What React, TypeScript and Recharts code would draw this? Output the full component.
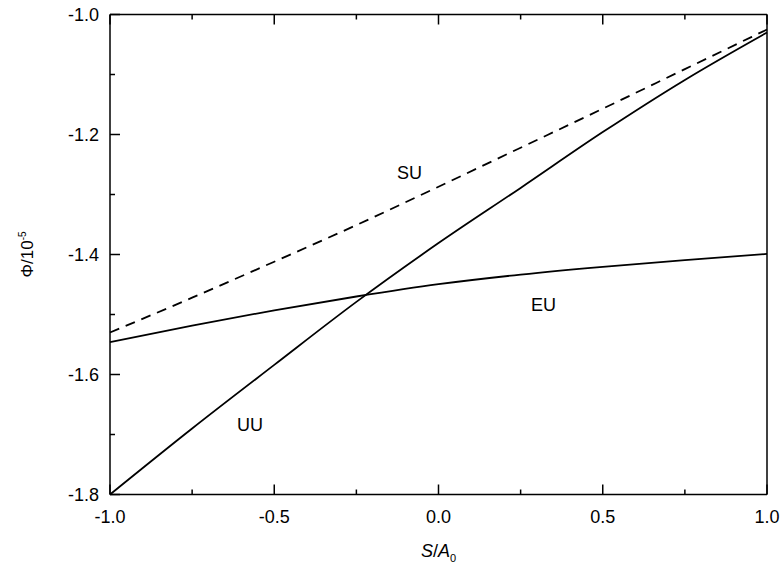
import { LineChart, Line, XAxis, YAxis, ReferenceDot } from 'recharts';

// S/A0 sample points
const sValues = [-1, -0.75, -0.5, -0.25, 0, 0.25, 0.5, 0.75, 1];
// Phi / 10^-5 for each curve
const uuValues = [-1.8, -1.69, -1.584, -1.479, -1.381, -1.289, -1.196, -1.109, -1.03];
const suValues = [-1.53, -1.472, -1.412, -1.351, -1.287, -1.222, -1.157, -1.091, -1.025];
const euValues = [-1.546, -1.5185, -1.493, -1.47, -1.4495, -1.4335, -1.4205, -1.4095, -1.399];

const xTicks = [-1, -0.75, -0.5, -0.25, 0, 0.25, 0.5, 0.75, 1];
const xMajor = [-1, -0.5, 0, 0.5, 1];
const yTicks = [-1.8, -1.7, -1.6, -1.5, -1.4, -1.3, -1.2, -1.1, -1.0];
const yMajor = [-1.8, -1.6, -1.4, -1.2, -1.0];

const curveLabels = [
  { name: 'SU', x: -0.088, y: -1.264 },
  { name: 'EU', x: 0.32, y: -1.484 },
  { name: 'UU', x: -0.574, y: -1.683 },
];

const data = sValues.map((s, i) => ({ s, uu: uuValues[i], su: suValues[i], eu: euValues[i] }));

const FONT = '"Liberation Sans", Arial, sans-serif';
const MAJOR = 10;
const MINOR = 5;

const isMajor = (list: number[], v: number) => list.some(m => Math.abs(m - v) < 1e-6);

function BottomTick(props: any) {
  const { x, y, payload } = props;
  const major = isMajor(xMajor, payload.value);
  return (
    <g>
      <line x1={x} x2={x} y1={y} y2={y - (major ? MAJOR : MINOR)} stroke="#000" strokeWidth={1.5} />
      {major && (
        <text x={x} y={y + 28} textAnchor="middle" fontSize={18} fontFamily={FONT} fill="#000">
          {payload.value.toFixed(1)}
        </text>
      )}
    </g>
  );
}

function TopTick(props: any) {
  const { x, y, payload } = props;
  const major = isMajor(xMajor, payload.value);
  return <line x1={x} x2={x} y1={y} y2={y + (major ? MAJOR : MINOR)} stroke="#000" strokeWidth={1.5} />;
}

function LeftTick(props: any) {
  const { x, y, payload } = props;
  const major = isMajor(yMajor, payload.value);
  return (
    <g>
      <line x1={x} x2={x + (major ? MAJOR : MINOR)} y1={y} y2={y} stroke="#000" strokeWidth={1.5} />
      {major && (
        <text x={x - 11} y={y + 6.5} textAnchor="end" fontSize={18} fontFamily={FONT} fill="#000">
          {payload.value.toFixed(1)}
        </text>
      )}
    </g>
  );
}

function RightTick(props: any) {
  const { x, y, payload } = props;
  const major = isMajor(yMajor, payload.value);
  return <line x1={x} x2={x - (major ? MAJOR : MINOR)} y1={y} y2={y} stroke="#000" strokeWidth={1.5} />;
}

function XTitle(props: any) {
  const { x, y, width } = props.viewBox;
  return (
    <text x={x + width / 2} y={y + 62} textAnchor="middle" fontSize={18} fontFamily={FONT} fill="#000">
      <tspan fontStyle="italic">S</tspan>
      <tspan>/</tspan>
      <tspan fontStyle="italic">A</tspan>
      <tspan fontSize={11} dy={5}>0</tspan>
    </text>
  );
}

function YTitle(props: any) {
  const { y, height } = props.viewBox;
  const cx = 33;
  const cy = y + height / 2;
  return (
    <text x={cx} y={cy} transform={`rotate(-90 ${cx} ${cy})`} textAnchor="middle" fontSize={17} fontFamily={FONT} fill="#000">
      <tspan>Φ/10</tspan>
      <tspan fontSize={10} dy={-7}>-5</tspan>
    </text>
  );
}

export default function App() {
  return (
    <div style={{ position: 'absolute', left: 0, top: 0, width: 781, height: 569, background: '#fff' }}>
      <LineChart
        width={781}
        height={569}
        data={data}
        margin={{ top: 13.5, right: 13, bottom: 14.5, left: 0 }}
      >
        <XAxis
          dataKey="s"
          type="number"
          domain={[-1, 1]}
          ticks={xTicks}
          interval={0}
          tickSize={0}
          tickMargin={0}
          tick={<BottomTick />}
          axisLine={{ stroke: '#000', strokeWidth: 1.5 }}
          height={60}
          label={<XTitle />}
        />
        <XAxis
          xAxisId="top"
          dataKey="s"
          type="number"
          orientation="top"
          domain={[-1, 1]}
          ticks={xTicks}
          interval={0}
          tickSize={0}
          tickMargin={0}
          tick={<TopTick />}
          axisLine={{ stroke: '#000', strokeWidth: 1.5 }}
          height={1}
        />
        <YAxis
          type="number"
          domain={[-1.8, -1.0]}
          ticks={yTicks}
          interval={0}
          tickSize={0}
          tickMargin={0}
          tick={<LeftTick />}
          axisLine={{ stroke: '#000', strokeWidth: 1.5 }}
          width={110}
          label={<YTitle />}
        />
        <YAxis
          yAxisId="right"
          type="number"
          orientation="right"
          domain={[-1.8, -1.0]}
          ticks={yTicks}
          interval={0}
          tickSize={0}
          tickMargin={0}
          tick={<RightTick />}
          axisLine={{ stroke: '#000', strokeWidth: 1.5 }}
          width={1}
        />
        <Line type="monotone" dataKey="su" stroke="#000" strokeWidth={1.8} strokeDasharray="10 7" dot={false} isAnimationActive={false} />
        <Line type="monotone" dataKey="uu" stroke="#000" strokeWidth={1.8} dot={false} isAnimationActive={false} />
        <Line type="monotone" dataKey="eu" stroke="#000" strokeWidth={1.8} dot={false} isAnimationActive={false} />
        {curveLabels.map(c => (
          <ReferenceDot
            key={c.name}
            x={c.x}
            y={c.y}
            r={0}
            stroke="none"
            label={{ value: c.name, position: 'center', fontSize: 18, fontFamily: FONT, fill: '#000' }}
          />
        ))}
      </LineChart>
    </div>
  );
}
